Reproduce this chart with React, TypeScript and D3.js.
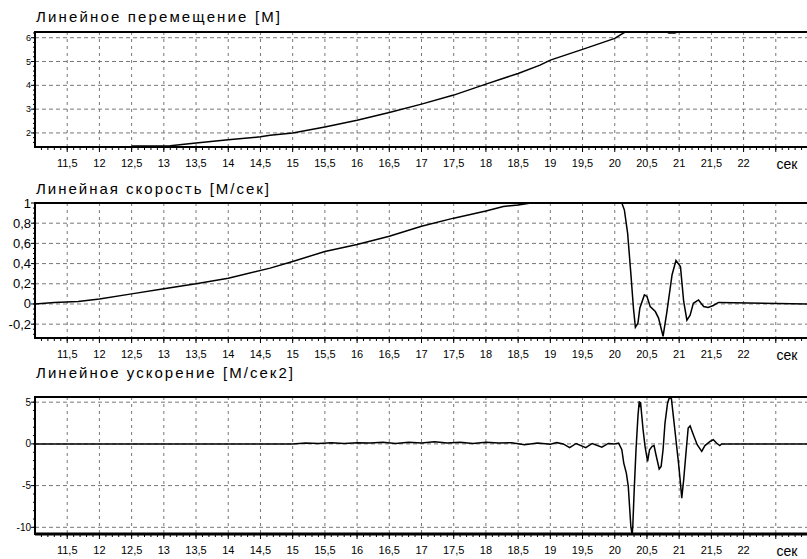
import React from "react";
import * as d3 from "d3";

const width = 807,
  height = 559;
const plotLeft = 35,
  plotRight = 808;
const font = "'Liberation Sans', Arial, sans-serif";

// x axis (seconds)
const xDomain = [11, 23];
const xLabelTicks = [11.5, 12, 12.5, 13, 13.5, 14, 14.5, 15, 15.5, 16, 16.5, 17, 17.5, 18, 18.5, 19, 19.5, 20, 20.5, 21, 21.5, 22];
const xGridTicks = [...xLabelTicks, 22.5];
const xUnit = "сек";

// displacement [М]
const dispT = [12.5, 13.1, 13.5, 14.0, 14.5, 14.65, 15.0, 15.5, 16.0, 16.5, 17.0, 17.5, 18.0, 18.5, 18.84, 19.0, 19.5, 20.0, 20.16, 20.3, 20.5, 20.7, 20.8, 20.84, 20.93, 21.0, 21.2, 21.6, 23.0];
const dispV = [1.45, 1.46, 1.58, 1.71, 1.84, 1.9, 2.0, 2.25, 2.53, 2.86, 3.21, 3.59, 4.05, 4.5, 4.85, 5.06, 5.51, 5.97, 6.24, 6.32, 6.31, 6.27, 6.25, 6.2, 6.2, 6.26, 6.3, 6.31, 6.31];
const dispTicks = [2, 3, 4, 5, 6];

// velocity [М/сек]
const velT = [11.0, 11.3, 11.67, 12.0, 12.5, 13.0, 13.5, 14.0, 14.65, 15.0, 15.5, 16.0, 16.5, 17.0, 17.5, 18.0, 18.27, 18.5, 18.7, 20.11, 20.15, 20.2, 20.25, 20.29, 20.32, 20.36, 20.39, 20.46, 20.5, 20.55, 20.63, 20.68, 20.75, 20.81, 20.89, 20.95, 21.02, 21.07, 21.12, 21.17, 21.22, 21.3, 21.38, 21.45, 21.53, 21.61, 23.0];
const velV = [0, 0.015, 0.025, 0.05, 0.1, 0.15, 0.2, 0.255, 0.355, 0.42, 0.52, 0.59, 0.67, 0.77, 0.85, 0.92, 0.965, 0.98, 1.0, 1.0, 0.93, 0.7, 0.3, -0.04, -0.23, -0.19, -0.04, 0.09, 0.075, -0.025, -0.075, -0.14, -0.32, -0.075, 0.29, 0.43, 0.37, 0.025, -0.16, -0.11, 0.007, 0.04, -0.025, -0.035, -0.015, 0.015, 0];
const velTicks = [-0.2, 0, 0.2, 0.4, 0.6, 0.8, 1];

// acceleration [М/сек2]
const accT = [11.0, 15.0, 15.2, 15.4, 15.6, 15.8, 16.0, 16.2, 16.4, 16.6, 16.8, 17.0, 17.2, 17.4, 17.6, 17.8, 18.0, 18.2, 18.4, 18.6, 18.8, 19.0, 19.1, 19.2, 19.3, 19.4, 19.55, 19.65, 19.8, 19.9, 20.0, 20.06, 20.11, 20.14, 20.18, 20.21, 20.23, 20.25, 20.27, 20.28, 20.3, 20.33, 20.36, 20.38, 20.39, 20.4, 20.44, 20.47, 20.51, 20.54, 20.58, 20.61, 20.64, 20.69, 20.72, 20.75, 20.78, 20.82, 20.85, 20.88, 20.91, 20.95, 20.99, 21.02, 21.04, 21.07, 21.11, 21.14, 21.17, 21.22, 21.28, 21.35, 21.4, 21.48, 21.53, 21.58, 21.63, 21.66, 23.0];
const accV = [0, 0, 0.1, 0.05, 0.15, 0.05, 0.15, 0.1, 0.2, 0.05, 0.2, 0.1, 0.25, 0.1, 0.2, 0.05, 0.2, 0.1, 0.15, -0.1, 0.1, -0.05, 0.15, 0, -0.45, 0.05, -0.45, 0.05, -0.4, 0.05, 0, 0.1, -0.7, -2.3, -3.5, -5.1, -7.5, -9.9, -10.9, -9.9, -5.9, -0.7, 3.3, 5.1, 4.4, 5.0, 1.7, -0.3, -2.1, -0.7, -0.3, -0.2, -1.3, -3.0, -2.7, -0.7, 2.5, 4.9, 5.6, 5.4, 3.3, 0.5, -2.3, -4.7, -6.5, -4.3, -0.7, 1.9, 2.15, 1.1, -0.1, -0.9, -0.2, 0.3, 0.5, 0.1, -0.2, 0, 0];
const accTicks = [-10, -5, 0, 5];

const fmt = (v: number) => String(+v.toFixed(2)).replace(".", ",");

type PanelProps = {
  id: string;
  title: string;
  titleY: number;
  titleLen: number;
  top: number;
  bottom: number;
  yDomain: [number, number];
  yTicks: number[];
  yMinor: number;
  yFont: number;
  t: number[];
  v: number[];
  labelY: number;
  bottomWidth?: number;
};

function Panel(p: PanelProps) {
  const x = d3.scaleLinear().domain(xDomain).range([plotLeft, plotRight]);
  const y = d3.scaleLinear().domain(p.yDomain).range([p.bottom, p.top]);
  const pts = p.t.map((t, i) => [t, p.v[i]] as [number, number]);
  const line = d3
    .line<[number, number]>()
    .x((d) => x(d[0]))
    .y((d) => y(d[1]));
  const minorY = d3.range(
    Math.ceil(p.yDomain[0] / p.yMinor) * p.yMinor,
    p.yDomain[1],
    p.yMinor,
  );
  const minorX = d3.range(11.1, 23, 0.1);
  return (
    <g>
      <text
        x={36}
        y={p.titleY}
        fontFamily={font}
        fontSize={15}
        textLength={p.titleLen}
        lengthAdjust="spacing"
      >
        {p.title}
      </text>
      <defs>
        <clipPath id={p.id}>
          <rect x={plotLeft} y={p.top} width={plotRight - plotLeft} height={p.bottom - p.top} />
        </clipPath>
      </defs>
      {/* grid */}
      {xGridTicks.map((t) => (
        <line key={"gx" + t} x1={x(t)} x2={x(t)} y1={p.top} y2={p.bottom} stroke="#777" strokeDasharray="3,4" />
      ))}
      {p.yTicks.map((v) => (
        <line key={"gy" + v} x1={plotLeft} x2={plotRight} y1={y(v)} y2={y(v)} stroke="#777" strokeDasharray="4,3" />
      ))}
      {/* data */}
      <path d={line(pts) || ""} fill="none" stroke="#000" strokeWidth={1.5} clipPath={`url(#${p.id})`} />
      {/* frame */}
      <line x1={plotLeft} x2={plotRight} y1={p.top} y2={p.top} stroke="#000" strokeWidth={2} />
      <line x1={plotLeft} x2={plotRight} y1={p.bottom} y2={p.bottom} stroke="#000" strokeWidth={p.bottomWidth || 2} />
      <line x1={plotLeft} x2={plotLeft} y1={p.top - 1} y2={p.bottom + 1} stroke="#000" strokeWidth={2} />
      {/* y ticks */}
      {minorY.map((v) => (
        <line key={"my" + v} x1={plotLeft - 2} x2={plotLeft} y1={y(v)} y2={y(v)} stroke="#000" />
      ))}
      {p.yTicks.map((v) => (
        <g key={"ty" + v}>
          <line x1={plotLeft - 4} x2={plotLeft} y1={y(v)} y2={y(v)} stroke="#000" />
          <text
            x={plotLeft - 4}
            y={y(v)}
            textAnchor="end"
            dominantBaseline="central"
            fontFamily={font}
            fontSize={p.yFont}
          >
            {fmt(v)}
          </text>
        </g>
      ))}
      {/* x ticks */}
      {minorX.map((t) => (
        <line key={"mx" + t.toFixed(1)} x1={x(t)} x2={x(t)} y1={p.bottom} y2={p.bottom + 3} stroke="#000" />
      ))}
      {xGridTicks.map((t) => (
        <line key={"tx" + t} x1={x(t)} x2={x(t)} y1={p.bottom} y2={p.bottom + 5} stroke="#000" />
      ))}
      {xLabelTicks.map((t) => (
        <text
          key={"lx" + t}
          x={x(t)}
          y={p.labelY}
          textAnchor="middle"
          dominantBaseline="central"
          fontFamily={font}
          fontSize={11}
        >
          {fmt(t)}
        </text>
      ))}
      <text x={787} y={p.labelY + 1} textAnchor="middle" dominantBaseline="central" fontFamily={font} fontSize={14}>
        {xUnit}
      </text>
    </g>
  );
}

export default function App() {
  return (
    <svg
      width={width}
      height={height}
      style={{ position: "absolute", left: 0, top: 0, background: "#fff" }}
    >
      <Panel
        id="c1"
        title="Линейное перемещение [М]"
        titleY={22}
        titleLen={244}
        top={32}
        bottom={147}
        yDomain={[1.41, 6.24]}
        yTicks={dispTicks}
        yMinor={0.2}
        yFont={9}
        t={dispT}
        v={dispV}
        labelY={163}
      />
      <Panel
        id="c2"
        title="Линейная скорость [М/сек]"
        titleY={194}
        titleLen={233}
        top={203}
        bottom={338}
        yDomain={[-0.337, 1.0]}
        yTicks={velTicks}
        yMinor={0.05}
        yFont={13}
        t={velT}
        v={velV}
        labelY={354}
      />
      <Panel
        id="c3"
        title="Линейное ускорение [М/сек2]"
        titleY={378}
        titleLen={257}
        top={397}
        bottom={534}
        yDomain={[-10.8, 5.62]}
        yTicks={accTicks}
        yMinor={1}
        yFont={10}
        t={accT}
        v={accV}
        labelY={550}
        bottomWidth={3}
      />
    </svg>
  );
}
